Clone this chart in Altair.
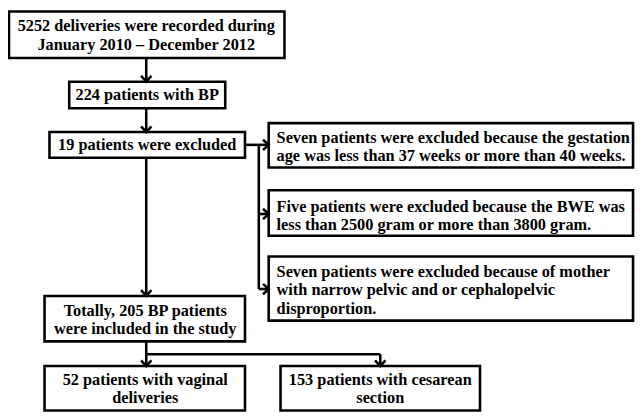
import altair as alt
import pandas as pd

# Boxes (pixel layout of the flow chart)
box_x0 = [9, 70, 50, 272, 272, 272, 45, 45, 284]
box_x1 = [288, 228, 248, 641, 641, 641, 248, 248, 486]
box_y0 = [9, 80, 131, 122, 190, 257, 297, 368, 368]
box_y1 = [56, 107, 157, 167, 236, 322, 343, 413, 413]

# Box texts
box_texts = [
    "5252 deliveries were recorded during\nJanuary 2010 \u2013 December 2012",
    "224 patients with BP",
    "19 patients were excluded",
    "Seven patients were excluded because the gestation\nage was less than 37 weeks or more than 40 weeks.",
    "Five patients were excluded because the BWE was\nless than 2500 gram or more than 3800 gram.",
    "Seven patients were excluded because of mother\nwith narrow pelvic and or cephalopelvic\ndisproportion.",
    "Totally, 205 BP patients\nwere included in the study",
    "52 patients with vaginal\ndeliveries",
    "153 patients with cesarean\nsection",
]
text_align = ["center", "center", "center", "left", "left", "left", "center", "center", "center"]
text_x = [148, 149, 149, 280, 280, 280, 147, 147, 385]
text_y = [24, 94, 144, 137, 207, 273, 312, 382, 382]

# Connector segments
seg_x0 = [148, 148, 148, 248, 262, 262, 262, 148, 148, 385]
seg_x1 = [148, 148, 148, 271, 262, 271, 271, 148, 385, 385]
seg_y0 = [56, 107, 157, 144, 144, 214, 290, 343, 356, 356]
seg_y1 = [79, 130, 296, 144, 290, 214, 290, 367, 356, 367]

# Arrow heads
arrow_x = [148, 148, 148, 148, 385, 272, 272, 272]
arrow_y = [80, 131, 297, 368, 368, 144, 214, 290]
arrow_dir = ["down", "down", "down", "down", "down", "right", "right", "right"]

W, H = 636, 408
xs = alt.Scale(domain=[8, 644], nice=False, zero=False)
ys = alt.Scale(domain=[8, 416], nice=False, zero=False, reverse=True)

boxes = pd.DataFrame({"x0": box_x0, "x1": box_x1, "y0": box_y0, "y1": box_y1})
texts = pd.DataFrame({"t": box_texts, "x": text_x, "y": text_y, "a": text_align})
segs = pd.DataFrame({"x0": seg_x0, "x1": seg_x1, "y0": seg_y0, "y1": seg_y1})
arrows = pd.DataFrame({"x": arrow_x, "y": arrow_y, "d": arrow_dir})

FONT = "'Liberation Serif', 'Times New Roman', 'DejaVu Serif', serif"

rect = alt.Chart(boxes).mark_rect(fill="white", stroke="black", strokeWidth=2.6).encode(
    x=alt.X("x0:Q", scale=xs, axis=None),
    x2="x1:Q",
    y=alt.Y("y0:Q", scale=ys, axis=None),
    y2="y1:Q",
)

rules = alt.Chart(segs).mark_rule(color="black", strokeWidth=2.6).encode(
    x=alt.X("x0:Q", scale=xs, axis=None),
    x2="x1:Q",
    y=alt.Y("y0:Q", scale=ys, axis=None),
    y2="y1:Q",
)

down = alt.Chart(arrows).transform_filter(alt.datum.d == "down").mark_point(
    shape="M -1 -1.1 L 0 0 L 1 -1.1", filled=False, stroke="black", strokeWidth=2.6, size=110, opacity=1
).encode(
    x=alt.X("x:Q", scale=xs, axis=None),
    y=alt.Y("y:Q", scale=ys, axis=None),
)

right = alt.Chart(arrows).transform_filter(alt.datum.d == "right").mark_point(
    shape="M -1.1 -1 L 0 0 L -1.1 1", filled=False, stroke="black", strokeWidth=2.6, size=110, opacity=1
).encode(
    x=alt.X("x:Q", scale=xs, axis=None),
    y=alt.Y("y:Q", scale=ys, axis=None),
)

def text_layer(align):
    return alt.Chart(texts).transform_filter(alt.datum.a == align).mark_text(
        align=align, baseline="middle", font=FONT, fontWeight="bold",
        fontSize=16.5, lineBreak="\n", lineHeight=18.5, color="black"
    ).encode(
        x=alt.X("x:Q", scale=xs, axis=None),
        y=alt.Y("y:Q", scale=ys, axis=None),
        text="t:N",
    )

chart = alt.layer(rules, rect, down, right, text_layer("center"), text_layer("left")).properties(
    width=W, height=H, padding=0, autosize=alt.AutoSizeParams(type="none"), background="white"
).configure_view(strokeWidth=0)

chart.save("out.html", embed_options={"renderer": "svg", "actions": False})
